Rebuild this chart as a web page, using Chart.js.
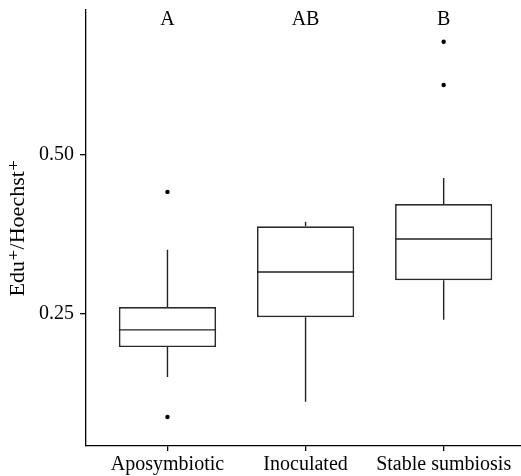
<!DOCTYPE html>
<html>
<head>
<meta charset="utf-8">
<script src="https://cdn.jsdelivr.net/npm/chart.js@4/dist/chart.umd.min.js"></script>
<style>
  html, body { margin: 0; padding: 0; background: #fff; }
  #wrap { width: 521px; height: 476px; }
</style>
</head>
<body>
<div id="wrap"><canvas id="chart_box"></canvas></div>
<script>
(function(){
  'use strict';

  var categories = ['Aposymbiotic', 'Inoculated', 'Stable sumbiosis'];
  var groupLetters = ['A', 'AB', 'B'];
  var whiskerLow = [0.151, 0.112, 0.241];
  var q1 = [0.198, 0.245, 0.303];
  var median = [0.225, 0.316, 0.368];
  var q3 = [0.261, 0.388, 0.423];
  var whiskerHigh = [0.351, 0.395, 0.464];
  var outliers = [[0.442, 0.088], [], [0.678, 0.610]];
  var yTicks = [0.25, 0.50];

  var serif = "'Liberation Serif', 'DejaVu Serif', serif";

  var boxData = categories.map(function(c, i){ return { x: i + 1, y: [q1[i], q3[i]] }; });
  var outlierData = [];
  outliers.forEach(function(list, i){
    list.forEach(function(v){ outlierData.push({ x: i + 1, y: v }); });
  });

  // medians, whiskers and the group letters on top of the boxes
  var boxParts = {
    id: 'boxParts',
    afterDatasetsDraw: function(chart){
      var ctx = chart.ctx;
      var xs = chart.scales.x, ys = chart.scales.y;
      var bars = chart.getDatasetMeta(0).data;
      ctx.save();
      ctx.strokeStyle = '#222';
      ctx.lineWidth = 1.4;
      bars.forEach(function(bar, i){
        var half = bar.width / 2;
        var ym = ys.getPixelForValue(median[i]);
        ctx.beginPath();
        ctx.moveTo(bar.x - half, ym);
        ctx.lineTo(bar.x + half, ym);
        ctx.moveTo(bar.x, ys.getPixelForValue(q3[i]));
        ctx.lineTo(bar.x, ys.getPixelForValue(whiskerHigh[i]));
        ctx.moveTo(bar.x, ys.getPixelForValue(q1[i]));
        ctx.lineTo(bar.x, ys.getPixelForValue(whiskerLow[i]));
        ctx.stroke();
      });
      ctx.fillStyle = '#000';
      ctx.font = '20px ' + serif;
      ctx.textAlign = 'center';
      ctx.textBaseline = 'middle';
      groupLetters.forEach(function(t, i){
        ctx.fillText(t, xs.getPixelForValue(i + 1), chart.chartArea.top + 10);
      });
      ctx.restore();
    }
  };

  var data = {
    datasets: [{
      type: 'bar',
      data: boxData,
      backgroundColor: '#fff',
      borderColor: '#2a2a2a',
      borderWidth: 1.7,
      borderSkipped: false,
      barPercentage: 0.88,
      categoryPercentage: 0.8
    }, {
      type: 'scatter',
      data: outlierData,
      pointRadius: 2.2,
      pointHoverRadius: 2.2,
      pointBackgroundColor: '#000',
      pointBorderWidth: 0
    }]
  };

  var options = {
    responsive: true,
    maintainAspectRatio: false,
    animation: false,
    layout: { autoPadding: false, padding: { top: 10, right: 0, bottom: 0, left: 0 } },
    plugins: { legend: { display: false }, tooltip: { enabled: false } },
    scales: {
      x: {
        type: 'linear',
        min: 0.41,
        max: 3.56,
        offset: false,
        grid: { display: true, offset: false, drawOnChartArea: false, drawTicks: true, tickLength: 5, color: '#000', lineWidth: 1.3 },
        border: { display: true, color: '#000', width: 1.3 },
        afterBuildTicks: function(scale){
          scale.ticks = categories.map(function(c, i){ return { value: i + 1 }; });
        },
        afterFit: function(scale){
          scale.height = 30;
          scale.paddingLeft = 0;
          scale.paddingRight = 0;
        },
        ticks: {
          color: '#000',
          padding: 2,
          maxRotation: 0,
          autoSkip: false,
          font: { family: serif, size: 20 },
          callback: function(v){ return categories[v - 1]; }
        }
      },
      y: {
        type: 'linear',
        min: 0.0425,
        max: 0.728,
        grid: { display: true, drawOnChartArea: false, drawTicks: true, tickLength: 6, color: '#000', lineWidth: 1.3 },
        border: { display: true, color: '#000', width: 1.3 },
        afterBuildTicks: function(scale){
          scale.ticks = yTicks.map(function(v){ return { value: v }; });
        },
        afterFit: function(scale){
          scale.width = 86;
          scale.paddingTop = 0;
          scale.paddingBottom = 0;
        },
        title: {
          display: true,
          text: 'Edu\u207A/Hoechst\u207A',
          color: '#000',
          font: { family: serif, size: 22 },
          padding: { top: 5, bottom: 0 }
        },
        ticks: {
          color: '#000',
          padding: 6,
          font: { family: serif, size: 20 },
          callback: function(v){ return v.toFixed(2); }
        }
      }
    }
  };

  var ctx = document.getElementById('chart_box').getContext('2d');
  var myChart = new Chart(ctx, {
    type: 'bar',
    data: data,
    options: options,
    plugins: [boxParts]
  });
})();
</script>
</body>
</html>
